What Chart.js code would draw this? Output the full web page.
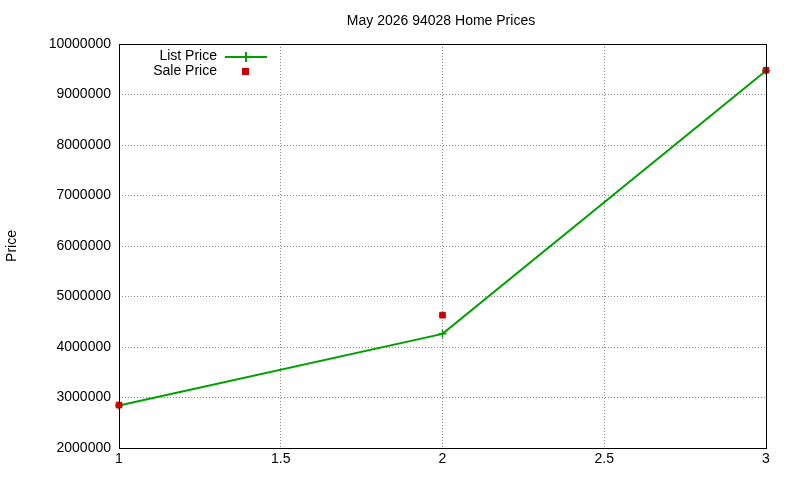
<!DOCTYPE html>
<html>
<head>
<meta charset="utf-8">
<script src="https://cdn.jsdelivr.net/npm/chart.js@4/dist/chart.umd.min.js"></script>
<style>body{margin:0;background:#fff}</style>
</head>
<body>
<canvas id="c" width="800" height="480"></canvas>
<script>
const xValues = [1, 2, 3];
const listPrice = [2840000, 4260000, 9470000];
const salePrice = [2850000, 4630000, 9480000];
const chartTitle = 'May 2026 94028 Home Prices';

const font = { family: 'Liberation Sans, Arial, sans-serif', size: 14 };

// cadre + légende façon gnuplot
const framePlugin = {
  id: 'frame',
  afterDraw(chart) {
    const { ctx, chartArea: a } = chart;
    ctx.save();
    ctx.strokeStyle = '#000';
    ctx.lineWidth = 1;
    ctx.strokeRect(a.left + 0.5, a.top + 0.5, a.right - a.left, a.bottom - a.top);
    ctx.fillStyle = '#000';
    ctx.font = '14px ' + font.family;
    ctx.textAlign = 'center';
    ctx.textBaseline = 'middle';
    ctx.fillText(chartTitle, 441, 21);
    ctx.textAlign = 'right';
    ctx.fillText('List Price', 217, 56);
    ctx.fillText('Sale Price', 217, 71);
    ctx.strokeStyle = '#00a000';
    ctx.lineWidth = 2;
    ctx.beginPath();
    ctx.moveTo(225, 57); ctx.lineTo(267, 57);
    ctx.moveTo(246, 52); ctx.lineTo(246, 62);
    ctx.stroke();
    ctx.fillStyle = '#cc0000';
    ctx.fillRect(242, 68, 7, 7);
    ctx.restore();
  }
};

new Chart(document.getElementById('c').getContext('2d'), {
  type: 'scatter',
  data: {
    datasets: [{
      label: 'Sale Price',
      data: xValues.map((x, i) => ({ x, y: salePrice[i] })),
      showLine: false,
      pointStyle: 'rect',
      pointRadius: 4,
      backgroundColor: '#cc0000',
      borderColor: '#cc0000',
      clip: false,
      order: 0
    }, {
      label: 'List Price',
      data: xValues.map((x, i) => ({ x, y: listPrice[i] })),
      showLine: true,
      borderColor: '#00a000',
      borderWidth: 2,
      pointStyle: 'cross',
      pointRadius: 4,
      pointBorderColor: '#00a000',
      pointBorderWidth: 1.5,
      clip: false,
      order: 1
    }]
  },
  options: {
    responsive: false,
    animation: false,
    layout: { padding: { left: 0, right: 34, top: 44, bottom: 0 } },
    plugins: { legend: { display: false }, tooltip: { enabled: false } },
    scales: {
      x: {
        type: 'linear', min: 1, max: 3,
        ticks: { stepSize: 0.5, color: '#000', font, maxRotation: 0, callback: v => String(v) },
        grid: { color: '#888', drawTicks: false },
        border: { display: false, dash: [1, 2] },
        afterFit(s) { s.height = 32; }
      },
      y: {
        min: 2000000, max: 10000000,
        ticks: { stepSize: 1000000, color: '#000', font, padding: 8, callback: v => String(v) },
        grid: { color: '#888', drawTicks: false },
        border: { display: false, dash: [1, 2] },
        title: { display: true, text: 'Price', color: '#000', font, padding: { top: 4, bottom: 0 } },
        afterFit(s) { s.width = 119; }
      }
    }
  },
  plugins: [framePlugin]
});
</script>
</body>
</html>
